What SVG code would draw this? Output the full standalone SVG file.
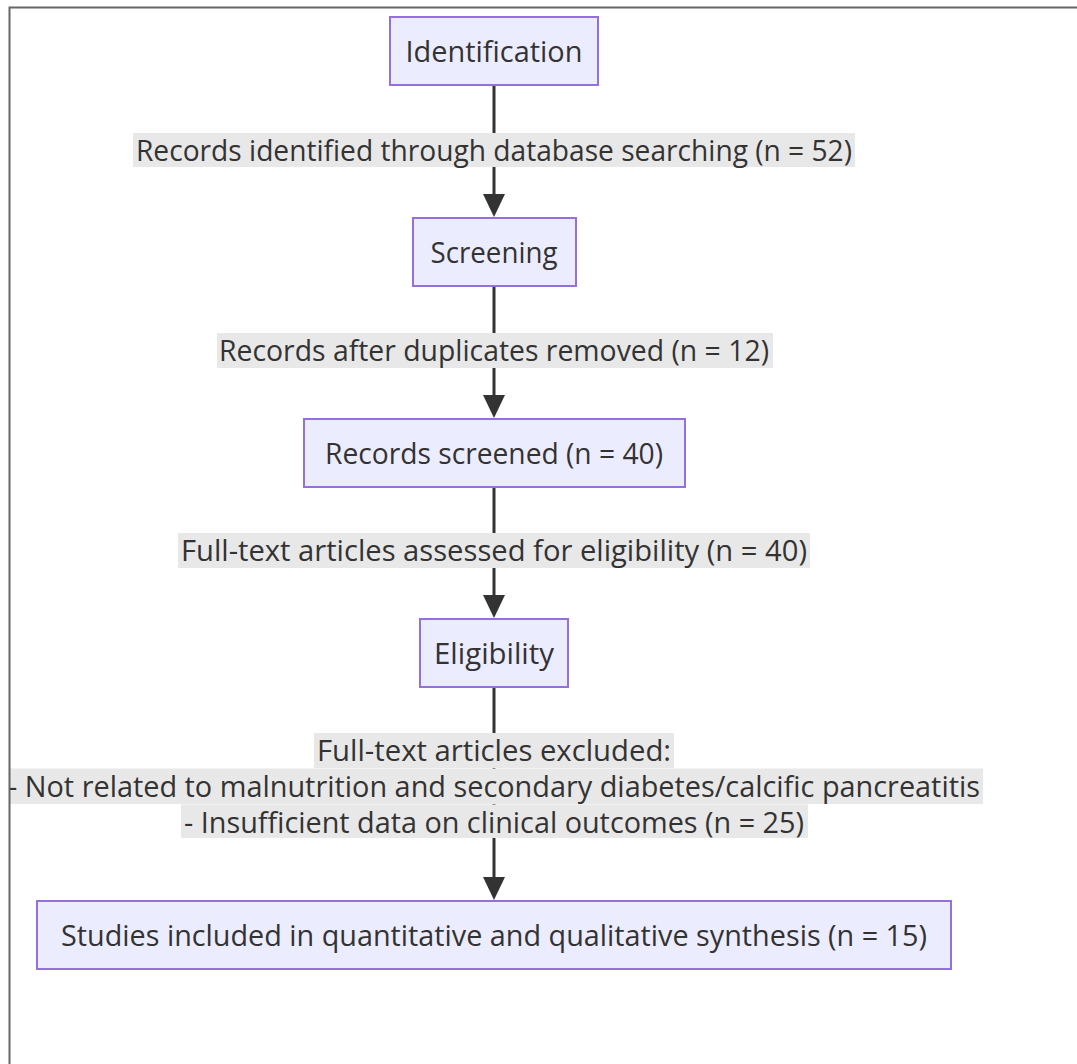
<svg xmlns="http://www.w3.org/2000/svg" width="1077" height="1064" viewBox="0 0 1077 1064">
<style>
.node rect{fill:#ECECFF;stroke:#9370DB;stroke-width:2}
text{font-family:"Open Sans","Noto Sans","Liberation Sans",sans-serif;font-size:29px;fill:#333;text-anchor:middle;dominant-baseline:central}
.lbg{fill:#e8e8e8}
.edge{stroke:#333;stroke-width:3;fill:none}
.head{fill:#333}
.frame{stroke:#666;stroke-width:2;fill:none}
</style>
<rect width="1077" height="1064" fill="#fff"/>
<g id="connectors">
<line class="edge" x1="494" y1="86" x2="494" y2="200"/>
<polygon class="head" points="483,194 505,194 494,217"/>
<line class="edge" x1="494" y1="287" x2="494" y2="401"/>
<polygon class="head" points="483,395 505,395 494,418"/>
<line class="edge" x1="494" y1="488" x2="494" y2="601"/>
<polygon class="head" points="483,595 505,595 494,618"/>
<line class="edge" x1="494" y1="688" x2="494" y2="883"/>
<polygon class="head" points="483,877 505,877 494,900"/>
<g id="label1"><rect class="lbg" x="133" y="133" width="722" height="34"/><text x="494" y="149" textLength="716" lengthAdjust="spacingAndGlyphs">Records identified through database searching (n = 52)</text></g>
<g id="label2"><rect class="lbg" x="217" y="333" width="556" height="35"/><text x="494" y="349" textLength="550" lengthAdjust="spacingAndGlyphs">Records after duplicates removed (n = 12)</text></g>
<g id="label3"><rect class="lbg" x="178" y="533" width="632" height="35"/><text x="494" y="549" textLength="626" lengthAdjust="spacingAndGlyphs">Full-text articles assessed for eligibility (n = 40)</text></g>
<g id="label4">
<rect class="lbg" x="314" y="733" width="360" height="35"/>
<rect class="lbg" x="5" y="768.5" width="978" height="35.5"/>
<rect class="lbg" x="181" y="804.5" width="627" height="33.5"/>
<text x="494" y="749" textLength="354" lengthAdjust="spacingAndGlyphs">Full-text articles excluded:</text>
<text x="494" y="785" textLength="972" lengthAdjust="spacingAndGlyphs">- Not related to malnutrition and secondary diabetes/calcific pancreatitis</text>
<text x="494" y="821" textLength="620" lengthAdjust="spacingAndGlyphs">- Insufficient data on clinical outcomes (n = 25)</text>
</g>
</g>
<g id="identification" class="node"><rect x="390" y="17" width="208" height="68"/><text x="494" y="50" textLength="177" lengthAdjust="spacingAndGlyphs">Identification</text></g>
<g id="screening" class="node"><rect x="413" y="218" width="163" height="68"/><text x="494" y="251" textLength="127" lengthAdjust="spacingAndGlyphs">Screening</text></g>
<g id="records-screened" class="node"><rect x="304" y="419" width="381" height="68"/><text x="494" y="452" textLength="338" lengthAdjust="spacingAndGlyphs">Records screened (n = 40)</text></g>
<g id="eligibility" class="node"><rect x="420" y="619" width="148" height="68"/><text x="494" y="652" textLength="120" lengthAdjust="spacingAndGlyphs">Eligibility</text></g>
<g id="studies-included" class="node"><rect x="37" y="901" width="914" height="68"/><text x="494" y="934" textLength="866" lengthAdjust="spacingAndGlyphs">Studies included in quantitative and qualitative synthesis (n = 15)</text></g>
<rect x="0" y="0" width="9" height="1064" fill="#fff"/>
<rect x="0" y="0" width="1077" height="7" fill="#fff"/>
<path class="frame" d="M9.5,1064 V7.5 H1077"/>
</svg>
